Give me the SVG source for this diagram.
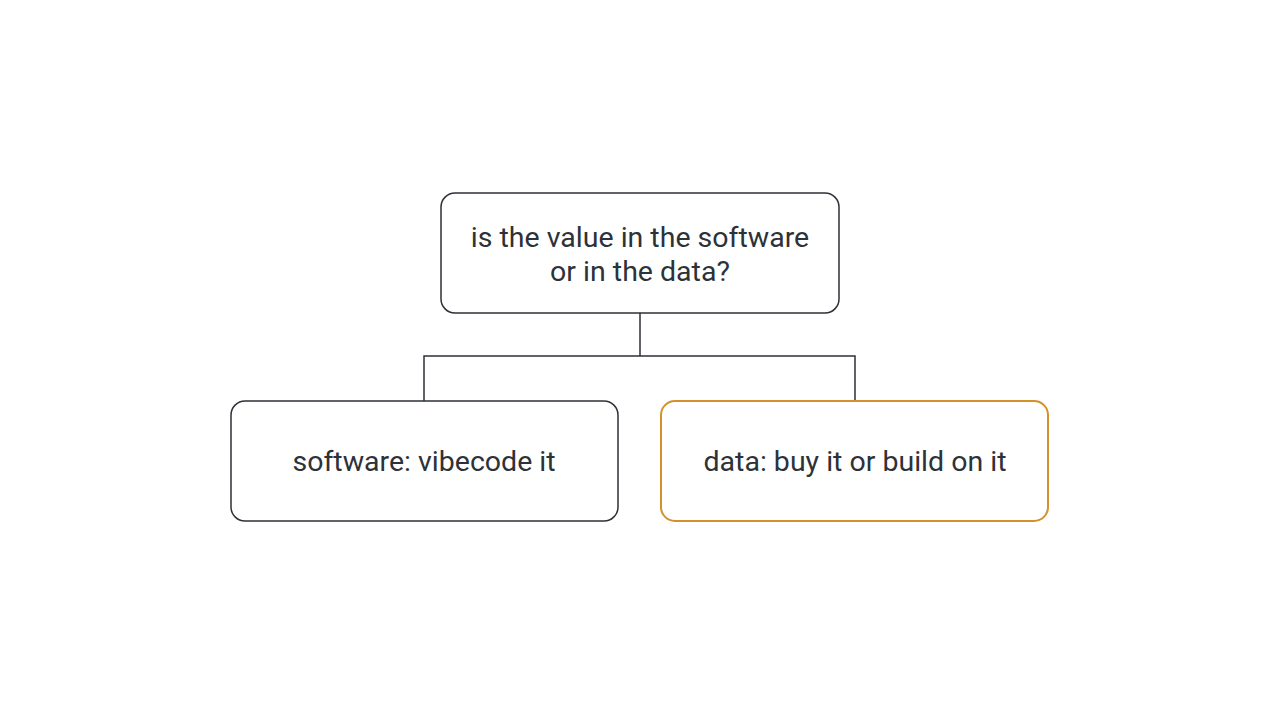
<svg xmlns="http://www.w3.org/2000/svg" width="1280" height="714" viewBox="0 0 1280 714">
<style>
.box{fill:#fff;stroke:#2d3238;stroke-width:1.5}
.hl{stroke:#d4902a;stroke-width:2}
.t{font-family:Roboto,"Liberation Sans",sans-serif;font-size:28.5px;fill:#2d3238;text-anchor:middle}
.c{fill:none;stroke:#2d3238;stroke-width:1.5}
</style>
<rect width="1280" height="714" fill="#fff"/>
<g id="connectors">
<path class="c" d="M640 313V356M424 401V356H855V401"/>
</g>
<g id="root">
<rect class="box" x="441" y="193" width="398" height="120" rx="14"/>
<text class="t" x="640" y="247">is the value in the software</text>
<text class="t" x="640" y="281">or in the data?</text>
</g>
<g id="software">
<rect class="box" x="231" y="401" width="387" height="120" rx="14"/>
<text class="t" x="424" y="471">software: vibecode it</text>
</g>
<g id="data">
<rect class="box hl" x="661" y="401" width="387" height="120" rx="14"/>
<text class="t" x="855" y="471">data: buy it or build on it</text>
</g>
</svg>
